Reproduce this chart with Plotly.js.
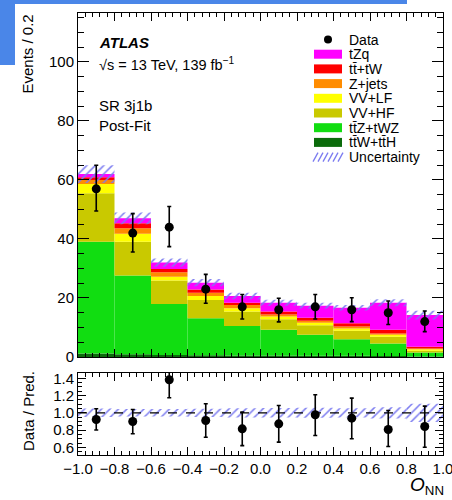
<!DOCTYPE html>
<html>
<head>
<meta charset="utf-8">
<script src="https://cdn.plot.ly/plotly-3.0.1.min.js"></script>
<style>html,body{margin:0;padding:0;background:#fff;}#chart{width:452px;height:500px;}</style>
</head>
<body>
<div id="chart"></div>
<script>
// ---- data ----
const binCenters = [-0.9, -0.7, -0.5, -0.3, -0.1, 0.1, 0.3, 0.5, 0.7, 0.9];
const ttWttH  = [1.2, 0.9, 0.7, 0.6, 0.5, 0.5, 0.4, 0.4, 0.3, 0.2];
const ttZtWZ  = [37.9, 26.7, 17.3, 12.5, 10.0, 8.7, 7.1, 5.6, 4.3, 1.3];
const vvHF    = [16.4, 11.5, 7.9, 6.2, 4.9, 3.6, 3.3, 2.9, 2.3, 0.6];
const vvLF    = [3.1, 2.7, 1.3, 1.4, 1.1, 0.9, 0.8, 0.8, 0.6, 0.5];
const zJets   = [1.4, 1.8, 1.5, 1.1, 1.1, 0.7, 0.7, 0.6, 0.5, 0.3];
const ttbarTW = [0.9, 1.7, 1.1, 1.1, 0.8, 1.0, 1.0, 1.1, 1.2, 0.6];
const tZq     = [1.1, 1.7, 2.2, 2.3, 2.3, 3.0, 4.1, 5.3, 9.2, 10.7];
const uncertainty = [3.0, 2.0, 1.4, 1.2, 1.1, 1.0, 1.0, 0.9, 1.2, 1.5];
const dataCounts  = [57, 42, 44, 23, 17, 16, 17, 16, 15, 12];
const dataErrUp   = [8.0, 6.6, 7.0, 5.0, 4.2, 3.9, 4.2, 4.1, 4.0, 3.6];
const dataErrDown = [7.5, 6.4, 6.6, 4.8, 4.1, 4.1, 4.1, 4.0, 4.0, 3.4];
const ratio         = [0.922, 0.899, 1.383, 0.911, 0.814, 0.872, 0.977, 0.938, 0.806, 0.841];
const ratioErrUp    = [0.124, 0.139, 0.22, 0.193, 0.194, 0.213, 0.232, 0.232, 0.221, 0.236];
const ratioErrDown  = [0.122, 0.142, 0.209, 0.194, 0.194, 0.212, 0.24, 0.238, 0.196, 0.241];
const xTickVals = [-1.0, -0.8, -0.6, -0.4, -0.2, 0.0, 0.2, 0.4, 0.6, 0.8, 1.0];
const xTickText = ['\u22121.0', '\u22120.8', '\u22120.6', '\u22120.4', '\u22120.2', '0.0', '0.2', '0.4', '0.6', '0.8', '1.0'];

const legendLabels = ['Data', 'tZq', 'tt\u0304+tW', 'Z+jets', 'VV+LF', 'VV+HF', 'tt\u0304Z+tWZ', 'tt\u0304W+tt\u0304H', 'Uncertainty'];

// ---- styles ----
const layers = [
  {name: 'tt\u0304W+tt\u0304H', y: ttWttH, color: '#0b6b0b'},
  {name: 'tt\u0304Z+tWZ', y: ttZtWZ, color: '#11dd11'},
  {name: 'VV+HF', y: vvHF, color: '#c9c900'},
  {name: 'VV+LF', y: vvLF, color: '#ffff00'},
  {name: 'Z+jets', y: zJets, color: '#ff8c00'},
  {name: 'tt\u0304+tW', y: ttbarTW, color: '#ff0000'},
  {name: 'tZq', y: tZq, color: '#ff00ff'}
];
const hatchColor = '#7b7bf0';
const FONT = 'Liberation Sans, Arial, Helvetica, sans-serif';

const traces = [];
let cumul = binCenters.map(() => 0);
layers.forEach(L => {
  traces.push({
    type: 'bar', x: binCenters, y: L.y, base: cumul.slice(), width: 0.2,
    marker: {color: L.color, line: {width: 0}}, name: L.name,
    xaxis: 'x', yaxis: 'y', hoverinfo: 'skip'
  });
  cumul = cumul.map((c, i) => c + L.y[i]);
});
const total = cumul;

// uncertainty band (main)
traces.push({
  type: 'bar', x: binCenters, y: uncertainty.map(u => 2 * u),
  base: total.map((t, i) => t - uncertainty[i]), width: 0.2,
  marker: {color: 'rgba(0,0,0,0)', line: {width: 0},
    pattern: {shape: '/', fgcolor: hatchColor, bgcolor: 'rgba(0,0,0,0)', size: 6, solidity: 0.25, fillmode: 'replace'}},
  xaxis: 'x', yaxis: 'y', name: 'Uncertainty', hoverinfo: 'skip'
});
// data
traces.push({
  type: 'scatter', mode: 'markers', x: binCenters, y: dataCounts, name: 'Data',
  marker: {color: 'black', size: 9},
  error_y: {type: 'data', symmetric: false, array: dataErrUp, arrayminus: dataErrDown, color: 'black', thickness: 1.6, width: 2},
  xaxis: 'x', yaxis: 'y'
});
// ratio band
traces.push({
  type: 'bar', x: binCenters, y: uncertainty.map((u, i) => 2 * u / total[i]),
  base: uncertainty.map((u, i) => 1 - u / total[i]), width: 0.2,
  marker: {color: 'rgba(0,0,0,0)', line: {width: 0},
    pattern: {shape: '/', fgcolor: hatchColor, bgcolor: 'rgba(0,0,0,0)', size: 6, solidity: 0.25, fillmode: 'replace'}},
  xaxis: 'x2', yaxis: 'y2', hoverinfo: 'skip', name: 'Uncertainty'
});
// ratio points
traces.push({
  type: 'scatter', mode: 'markers', x: binCenters, y: ratio,
  marker: {color: 'black', size: 9},
  error_y: {type: 'data', symmetric: false, array: ratioErrUp, arrayminus: ratioErrDown, color: 'black', thickness: 1.6, width: 2},
  xaxis: 'x2', yaxis: 'y2', name: 'Data / Pred.'
});

// pixel -> paper helpers for decorations
const PL = 78, PR = 443, PT = 13, PB = 455;
const X = px => (px - PL) / (PR - PL);
const Y = py => (PB - py) / (PB - PT);

const axisCommon = {
  showline: true, linecolor: 'black', linewidth: 1, mirror: 'allticks',
  ticks: 'inside', tickcolor: 'black', showgrid: false, zeroline: false,
  tickfont: {family: FONT, size: 15, color: 'black'}
};

const annotations = [
  {text: '<b><i>ATLAS</i></b>', x: X(97), y: Y(43), xanchor: 'left', yanchor: 'middle', font: {size: 15}},
  {text: '\u221As = 13 TeV, 139 fb<sup>\u22121</sup>', x: X(97), y: Y(64), xanchor: 'left', yanchor: 'middle', font: {size: 14.5}},
  {text: 'SR 3j1b', x: X(97), y: Y(105), xanchor: 'left', yanchor: 'middle', font: {size: 15}},
  {text: 'Post-Fit', x: X(97), y: Y(125), xanchor: 'left', yanchor: 'middle', font: {size: 15}},
  {text: 'Events / 0.2', x: X(27), y: Y(13), xanchor: 'center', yanchor: 'top', textangle: -90, font: {size: 15}},
  {text: 'Data / Pred.', x: X(28), y: Y(411), xanchor: 'center', yanchor: 'middle', textangle: -90, font: {size: 15}},
  {text: '<i>O</i><sub>NN</sub>', x: X(446), y: Y(500), xanchor: 'right', yanchor: 'bottom', font: {size: 19}}
].map(a => Object.assign({xref: 'paper', yref: 'paper', showarrow: false}, a, {font: Object.assign({family: FONT, color: 'black'}, a.font)}));

const shapes = [];
// legend
const legColors = [null].concat(layers.slice().reverse().map(l => l.color)).concat([null]);
const legY0 = 39.5, legStep = 14.7;
legendLabels.forEach((lab, i) => {
  const cy = legY0 + i * legStep;
  annotations.push({xref: 'paper', yref: 'paper', showarrow: false, text: lab, x: X(347), y: Y(cy),
    xanchor: 'left', yanchor: 'middle', font: {family: FONT, size: 14, color: 'black'}});
  if (i === 0) {
    shapes.push({type: 'circle', xref: 'paper', yref: 'paper', x0: X(324), x1: X(332), y0: Y(cy + 4), y1: Y(cy - 4),
      fillcolor: 'black', line: {width: 0}});
  } else if (lab === 'Uncertainty') {
    for (let k = 0; k < 6; k++) {
      const x0 = 313 + k * 5;
      shapes.push({type: 'line', xref: 'paper', yref: 'paper', x0: X(x0), x1: X(x0 + 5), y0: Y(cy + 4.5), y1: Y(cy - 4.5),
        line: {color: hatchColor, width: 1.3}});
    }
  } else {
    shapes.push({type: 'rect', xref: 'paper', yref: 'paper', x0: X(314), x1: X(342), y0: Y(cy + 4.5), y1: Y(cy - 4.5),
      fillcolor: legColors[i], line: {width: 0}});
  }
});
// dashed unity line in ratio panel
shapes.push({type: 'line', xref: 'x2', yref: 'y2', x0: -1, x1: 1, y0: 1, y1: 1, line: {color: 'black', width: 1.3, dash: 'dash'}});
// blue overlay blocks from the screenshot
shapes.push({type: 'rect', xref: 'paper', yref: 'paper', x0: X(0), x1: X(407), y0: Y(4), y1: Y(0), fillcolor: '#4a86e8', line: {width: 0}, layer: 'above'});
shapes.push({type: 'rect', xref: 'paper', yref: 'paper', x0: X(0), x1: X(15), y0: Y(65), y1: Y(0), fillcolor: '#4a86e8', line: {width: 0}, layer: 'above'});

const layout = {
  width: 452, height: 500,
  margin: {l: PL, r: 452 - PR, t: PT, b: 500 - PB, pad: 0},
  paper_bgcolor: 'white', plot_bgcolor: 'white',
  barmode: 'overlay', showlegend: false,
  font: {family: FONT, color: 'black'},
  xaxis: Object.assign({}, axisCommon, {domain: [0, 1], anchor: 'y', range: [-1, 1], tickmode: 'array', tickvals: xTickVals,
    ticklen: 8, showticklabels: false, minor: {dtick: 0.04, tick0: -1, ticklen: 4, ticks: 'inside', tickcolor: 'black'}}),
  yaxis: Object.assign({}, axisCommon, {domain: [(PB - 357) / (PB - PT), 1], anchor: 'x', range: [0, 116.6], tick0: 0, dtick: 20,
    ticklen: 11, minor: {dtick: 5, ticklen: 6, ticks: 'inside', tickcolor: 'black'}}),
  xaxis2: Object.assign({}, axisCommon, {domain: [0, 1], anchor: 'y2', range: [-1, 1], tickmode: 'array', tickvals: xTickVals, ticktext: xTickText,
    ticklabeloverflow: 'allow',
    ticklen: 8, minor: {dtick: 0.04, tick0: -1, ticklen: 4, ticks: 'inside', tickcolor: 'black'}}),
  yaxis2: Object.assign({}, axisCommon, {domain: [0, (PB - 373) / (PB - PT)], anchor: 'x2', range: [0.511, 1.461], tick0: 0.6, dtick: 0.2,
    tickformat: '.1f', ticklen: 8, minor: {dtick: 0.05, ticklen: 4, ticks: 'inside', tickcolor: 'black'}}),
  annotations: annotations,
  shapes: shapes
};

Plotly.newPlot('chart', traces, layout, {staticPlot: true, displayModeBar: false});
</script>
</body>
</html>
